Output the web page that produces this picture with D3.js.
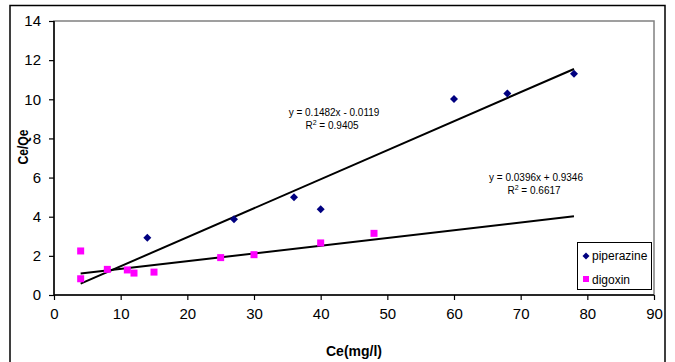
<!DOCTYPE html>
<html>
<head>
<meta charset="utf-8">
<script src="https://cdn.jsdelivr.net/npm/d3@7/dist/d3.min.js"></script>
<style>
  html, body { margin: 0; padding: 0; background: #fff; }
  svg { display: block; font-family: "Liberation Sans", Arial, sans-serif; }
</style>
</head>
<body>
<svg id="chart" width="675" height="362"></svg>
<script>
// Adsorption isotherm data: Ce (mg/l) vs Ce/Qe
const piperazineCe = [14, 27, 36, 40, 60, 68, 78];
const piperazineRatio = [2.93, 3.87, 5.0, 4.38, 10.02, 10.3, 11.31];
const digoxinCe = [4, 4, 8, 11, 12, 15, 25, 30, 40, 48];
const digoxinRatio = [2.25, 0.83, 1.31, 1.28, 1.12, 1.17, 1.91, 2.06, 2.66, 3.15];

// Linear fits as reported
const piperazineFit = { slope: 0.1482, intercept: -0.0119, r2: "0.9405", eq: "y = 0.1482x - 0.0119" };
const digoxinFit = { slope: 0.0396, intercept: 0.9346, r2: "0.6617", eq: "y = 0.0396x + 0.9346" };
const fitRange = [4, 78];

const xTicks = [0, 10, 20, 30, 40, 50, 60, 70, 80, 90];
const yTicks = [0, 2, 4, 6, 8, 10, 12, 14];

const seriesNames = ["piperazine", "digoxin"];
const seriesColors = ["#000080", "#FF00FF"];

const svg = d3.select("#chart");
const plot = { left: 54, top: 21, right: 654, bottom: 295 };

const x = d3.scaleLinear().domain([0, 90]).range([plot.left, plot.right]);
const y = d3.scaleLinear().domain([0, 14]).range([plot.bottom, plot.top]);

// Diamond marker with equal width and height
const diamondPath = r => `M0,${-r}L${r},0L0,${r}L${-r},0Z`;

// Outer chart frame (bottom edge runs past the canvas)
svg.append("path")
  .attr("d", "M10,370 V5.5 H665 V370")
  .attr("fill", "none").attr("stroke", "#000").attr("stroke-width", 1.5);

// Plot area frame
svg.append("rect")
  .attr("x", plot.left).attr("y", plot.top)
  .attr("width", plot.right - plot.left).attr("height", plot.bottom - plot.top)
  .attr("fill", "none").attr("stroke", "#808080").attr("stroke-width", 1.5);

// Axes
const xAxis = d3.axisBottom(x).tickValues(xTicks).tickSize(5).tickPadding(8).tickFormat(d3.format("d"));
const yAxis = d3.axisLeft(y).tickValues(yTicks).tickSize(5).tickPadding(8).tickFormat(d3.format("d"));

const gx = svg.append("g").attr("transform", `translate(0,${plot.bottom})`).call(xAxis);
const gy = svg.append("g").attr("transform", `translate(${plot.left},0)`).call(yAxis);
[gx, gy].forEach(g => {
  g.select(".domain").attr("stroke", "#000").attr("stroke-width", 1.5);
  g.selectAll(".tick line").attr("stroke", "#000").attr("stroke-width", 1.2);
  g.selectAll(".tick text").attr("fill", "#000").style("font-size", "15px")
    .style("font-family", "Liberation Sans, Arial, sans-serif");
});
gx.select(".domain").attr("d", `M${plot.left},0H${plot.right}`);
gy.select(".domain").attr("d", `M0,${plot.bottom}V${plot.top}`);

// Axis titles
svg.append("text")
  .attr("x", (plot.left + plot.right) / 2).attr("y", 356)
  .attr("text-anchor", "middle")
  .style("font-size", "14px").style("font-weight", "bold")
  .text("Ce(mg/l)");
svg.append("text")
  .attr("transform", "translate(28,147) rotate(-90)")
  .attr("text-anchor", "middle")
  .attr("textLength", 35).attr("lengthAdjust", "spacingAndGlyphs")
  .style("font-size", "15px").style("font-weight", "bold")
  .text("Ce/Qe");

// Trend lines
[piperazineFit, digoxinFit].forEach(f => {
  svg.append("line")
    .attr("x1", x(fitRange[0])).attr("y1", y(f.slope * fitRange[0] + f.intercept))
    .attr("x2", x(fitRange[1])).attr("y2", y(f.slope * fitRange[1] + f.intercept))
    .attr("stroke", "#000").attr("stroke-width", 2);
});

// Markers
svg.append("g").selectAll("path")
  .data(piperazineCe.map((c, i) => [c, piperazineRatio[i]]))
  .join("path")
  .attr("d", diamondPath(4))
  .attr("transform", d => `translate(${x(d[0])},${y(d[1])})`)
  .attr("fill", seriesColors[0]);

svg.append("g").selectAll("rect")
  .data(digoxinCe.map((c, i) => [c, digoxinRatio[i]]))
  .join("rect")
  .attr("x", d => x(d[0]) - 3.5).attr("y", d => y(d[1]) - 3.5)
  .attr("width", 7).attr("height", 7)
  .attr("fill", seriesColors[1]);

// Equation labels
function fitLabel(f, cx, yEq) {
  svg.append("text")
    .attr("x", cx).attr("y", yEq)
    .attr("text-anchor", "middle").style("font-size", "10px")
    .text(f.eq);
  const t = svg.append("text")
    .attr("x", cx - 2).attr("y", yEq + 13)
    .attr("text-anchor", "middle").style("font-size", "10px");
  t.append("tspan").text("R");
  t.append("tspan").attr("dy", -4).style("font-size", "7px").text("2");
  t.append("tspan").attr("dy", 4).text(" = " + f.r2);
}
fitLabel(piperazineFit, 334, 116);
fitLabel(digoxinFit, 536, 181);

// Legend
const legend = svg.append("g");
legend.append("rect")
  .attr("x", 577.5).attr("y", 242.5).attr("width", 74).attr("height", 47)
  .attr("fill", "#fff").attr("stroke", "#000").attr("stroke-width", 1);
legend.append("path")
  .attr("d", diamondPath(3.5))
  .attr("transform", "translate(586,256)")
  .attr("fill", seriesColors[0]);
legend.append("rect")
  .attr("x", 583).attr("y", 276).attr("width", 6).attr("height", 6)
  .attr("fill", seriesColors[1]);
legend.append("text").attr("x", 592).attr("y", 260).style("font-size", "12px").text(seriesNames[0]);
legend.append("text").attr("x", 592).attr("y", 283.5).style("font-size", "12px").text(seriesNames[1]);
</script>
</body>
</html>
